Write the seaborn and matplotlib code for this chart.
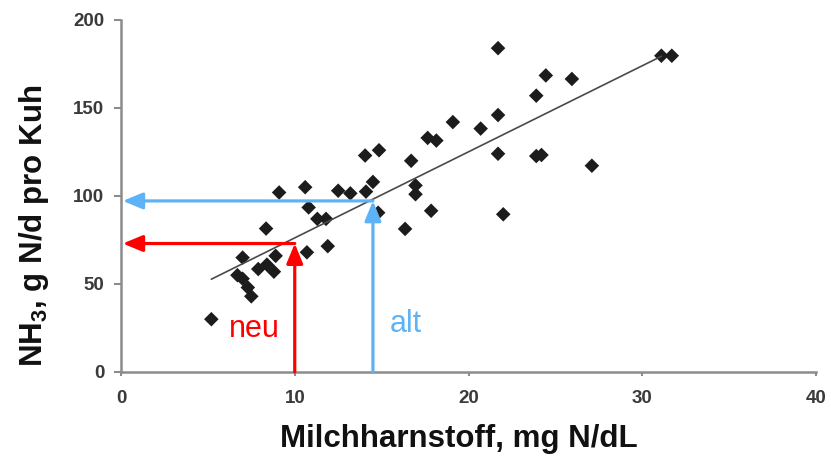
import matplotlib
matplotlib.use("Agg")
import matplotlib.pyplot as plt
import seaborn as sns
import pandas as pd

# Milk urea (mg N/dL) vs. ammonia emission (g N per cow and day)
milk_urea = [5.2, 6.7, 7.0, 7.0, 7.3, 7.5, 7.9, 8.4, 8.8, 8.9,
             8.35, 9.1, 10.6, 10.8, 10.7, 11.3, 11.8, 11.9, 12.5, 13.2,
             14.1, 14.5, 14.05, 14.85, 14.8, 16.35, 16.7, 16.95, 16.95, 17.65,
             18.15, 17.85, 19.1, 20.7, 21.7, 21.7, 21.7, 22.0, 23.9, 24.45,
             23.9, 24.2, 25.95, 27.1, 31.1, 31.7]
nh3_per_cow = [30, 55, 53, 65, 48, 43, 58.5, 61, 57, 66,
               81.5, 102, 105, 93.5, 68, 87, 87, 71.5, 103, 101.5,
               102.5, 108, 123, 126, 90.5, 81.3, 120, 106, 101, 133,
               131.5, 91.6, 142, 138.3, 184, 146, 124, 89.6, 157, 168.5,
               122.7, 123.3, 166.5, 117.2, 179.7, 179.7]

# Regression line y = slope * x + intercept
trend_slope = 4.89
trend_intercept = 27.3

# Read-off arrows: old and new milk urea level
neu_urea, neu_nh3 = 10.0, 73.0
alt_urea, alt_nh3 = 14.5, 97.2

x_ticks = [0, 10, 20, 30, 40]
y_ticks = [0, 50, 100, 150, 200]

df = pd.DataFrame({"harnstoff": milk_urea, "nh3": nh3_per_cow})

sns.set_theme(style="white")
plt.rcParams["font.family"] = ["Liberation Sans", "DejaVu Sans"]
plt.rcParams["mathtext.fontset"] = "custom"
plt.rcParams["mathtext.rm"] = "Liberation Sans"
plt.rcParams["mathtext.bf"] = "Liberation Sans:bold"

fig = plt.figure(figsize=(8.31, 4.57), dpi=100)
ax = fig.add_axes([121 / 831, 85 / 457, 695 / 831, 352 / 457])

sns.scatterplot(data=df, x="harnstoff", y="nh3", marker="D", s=55,
                color="#1c1c1c", edgecolor="none", ax=ax, zorder=3)

x_lo, x_hi = min(milk_urea), max(milk_urea) - 0.6
sns.lineplot(x=[x_lo, x_hi],
             y=[trend_slope * x_lo + trend_intercept, trend_slope * x_hi + trend_intercept],
             color="#4a4a4a", linewidth=1.2, ax=ax, zorder=4)

red = "#ff0000"
blue = "#5eb3f7"
arrow_kw = dict(arrowstyle="-|>,head_length=0.8,head_width=0.33",
                mutation_scale=15, linewidth=2.3, shrinkA=0, shrinkB=0)

for xv, yv, col in [(neu_urea, neu_nh3, red), (alt_urea, alt_nh3, blue)]:
    ax.annotate("", xy=(xv, yv), xytext=(xv, 0),
                arrowprops=dict(color=col, **arrow_kw), zorder=5)
    ax.annotate("", xy=(0.1, yv), xytext=(xv, yv),
                arrowprops=dict(color=col, **arrow_kw), zorder=5)

ax.text(7.65, 19.9, "neu", color=red, fontsize=22, ha="center", va="baseline")
ax.text(16.4, 22.7, "alt", color=blue, fontsize=22, ha="center", va="baseline")

ax.set_xlim(0, 40)
ax.set_ylim(0, 200)
ax.set_xticks(x_ticks)
ax.set_yticks(y_ticks)
ax.set_xticklabels([str(v) for v in x_ticks], fontsize=13.5, fontweight="bold", color="#3a3a3a")
ax.set_yticklabels([str(v) for v in y_ticks], fontsize=13.5, fontweight="bold", color="#3a3a3a")

for side in ["top", "right"]:
    ax.spines[side].set_visible(False)
for side in ["left", "bottom"]:
    ax.spines[side].set_color("#8c8c8c")
    ax.spines[side].set_linewidth(1.8)
ax.tick_params(axis="y", direction="out", length=5, width=1.5, color="#8c8c8c", pad=7, left=True)
ax.tick_params(axis="x", direction="out", length=3, width=1.5, color="#8c8c8c", pad=10, bottom=True)

ax.set_xlabel("")
ax.set_ylabel("")
fig.text(459 / 831, 10 / 457, "Milchharnstoff, mg N/dL", fontsize=22.5,
         fontweight="bold", color="#111111", ha="center", va="baseline")
fig.text(34 / 831, 1 - 226 / 457, "NH$_\\mathbf{3}$, g N/d pro Kuh", fontsize=22.5,
         fontweight="bold", color="#111111", ha="center", va="center", rotation=90)

fig.savefig("out.png", dpi=100)
